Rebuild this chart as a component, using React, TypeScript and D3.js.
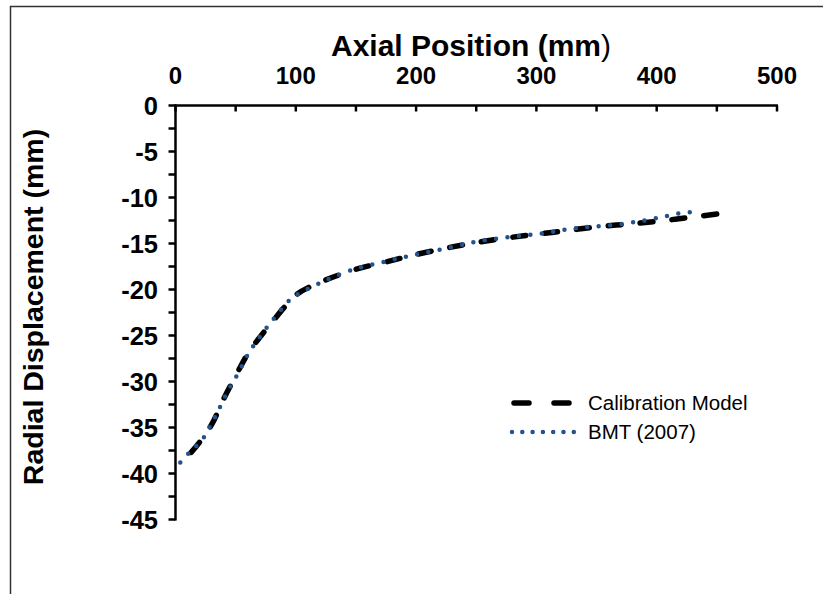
import React from "react";
import * as d3 from "d3";

const xTicks = [0, 100, 200, 300, 400, 500];
const yTicks = [0, -5, -10, -15, -20, -25, -30, -35, -40, -45];
const seriesNames = ["Calibration Model", "BMT (2007)"];

const calibX = [13, 20, 30, 40, 50, 60, 70, 80, 90, 100, 115, 130, 150, 175, 200, 225, 250, 275, 300, 325, 350, 375, 400, 425, 450];
const calibY = [-37.7, -36.6, -34.7, -31.9, -29.4, -27.0, -25.2, -23.6, -22.0, -20.6, -19.5, -18.7, -17.8, -17.0, -16.2, -15.5, -14.9, -14.4, -14.0, -13.6, -13.2, -12.9, -12.6, -12.2, -11.8];

const bmtX = [4, 11, 18, 24, 29, 34, 42, 52, 61, 72, 84, 97, 106, 120, 132, 151, 170, 189, 207, 226, 246, 265, 285, 305, 324, 343, 363, 385, 405, 420, 430];
const bmtY = [-38.8, -37.8, -36.9, -36.0, -34.8, -33.6, -31.4, -29.1, -26.9, -24.8, -22.8, -20.9, -20.2, -19.3, -18.6, -17.7, -17.1, -16.5, -16.0, -15.5, -14.9, -14.5, -14.2, -13.9, -13.5, -13.2, -13.0, -12.6, -12.1, -11.7, -11.6];

const W = 823;
const H = 594;
const FONT = "'Liberation Sans', Arial, sans-serif";
const BLUE = "#24528A";

export default function App() {
  const x = d3.scaleLinear().domain([0, 500]).range([175.5, 777]);
  const y = d3.scaleLinear().domain([0, -45]).range([105.5, 519.5]);

  const line = d3
    .line<[number, number]>()
    .x((d) => x(d[0]))
    .y((d) => y(d[1]))
    .curve(d3.curveCatmullRom.alpha(0.5));

  const calib: [number, number][] = calibX.map((v, i) => [v, calibY[i]]);
  const bmt: [number, number][] = bmtX.map((v, i) => [v, bmtY[i]]);

  const xMinor = d3.range(0, 501, 50);
  const yMinor = d3.range(0, -45.01, -2.5);

  return (
    <svg
      width={W}
      height={H}
      style={{ position: "absolute", left: 0, top: 0, background: "#fff" }}
      fontFamily={FONT}
    >
      <rect x={0} y={0} width={W} height={H} fill="#fff" />
      <path d={`M10.5,${H} V6.5 H${W}`} fill="none" stroke="#333" strokeWidth={1.5} />

      {/* x axis (top) */}
      <line x1={x(0) - 1} x2={x(500) + 1} y1={y(0)} y2={y(0)} stroke="#000" strokeWidth={2.5} />
      {xMinor.map((t) => (
        <line key={"xt" + t} x1={x(t)} x2={x(t)} y1={y(0)} y2={y(0) + 6} stroke="#000" strokeWidth={2.5} />
      ))}
      {xTicks.map((t) => (
        <text key={"xl" + t} x={x(t)} y={84} textAnchor="middle" fontSize={24} fontWeight="bold">
          {t}
        </text>
      ))}

      {/* y axis */}
      <line x1={x(0)} x2={x(0)} y1={y(0) - 1} y2={y(-45) + 1} stroke="#000" strokeWidth={2.5} />
      {yMinor.map((t) => (
        <line key={"yt" + t} x1={x(0) - 7} x2={x(0)} y1={y(t)} y2={y(t)} stroke="#000" strokeWidth={2.5} />
      ))}
      {yTicks.map((t) => (
        <text key={"yl" + t} x={158} y={y(t) + 9} textAnchor="end" fontSize={25.5} fontWeight="bold">
          {t}
        </text>
      ))}

      {/* titles */}
      <text x={471} y={56} textAnchor="middle" fontSize={30} fontWeight="bold">
        Axial Position (mm<tspan fontWeight="normal">)</tspan>
      </text>
      <text
        transform={`translate(43,307) rotate(-90)`}
        textAnchor="middle"
        fontSize={28.5}
        fontWeight="bold"
      >
        Radial Displacement (mm)
      </text>

      {/* series */}
      <path
        d={line(calib) || ""}
        fill="none"
        stroke="#000"
        strokeWidth={5.5}
        strokeDasharray="13 19"
        strokeLinecap="round"
      />
      <path
        d={line(bmt) || ""}
        fill="none"
        stroke={BLUE}
        strokeWidth={4.5}
        strokeDasharray="0 11.5"
        strokeLinecap="round"
      />

      {/* legend */}
      <line x1={514} x2={572} y1={403} y2={403} stroke="#000" strokeWidth={5.5} strokeDasharray="15 25" strokeLinecap="round" />
      <text x={588} y={410} fontSize={20.5}>
        {seriesNames[0]}
      </text>
      <line x1={512} x2={574} y1={432} y2={432} stroke={BLUE} strokeWidth={4.5} strokeDasharray="0 10.3" strokeLinecap="round" />
      <text x={588} y={439} fontSize={20.5}>
        {seriesNames[1]}
      </text>
    </svg>
  );
}
